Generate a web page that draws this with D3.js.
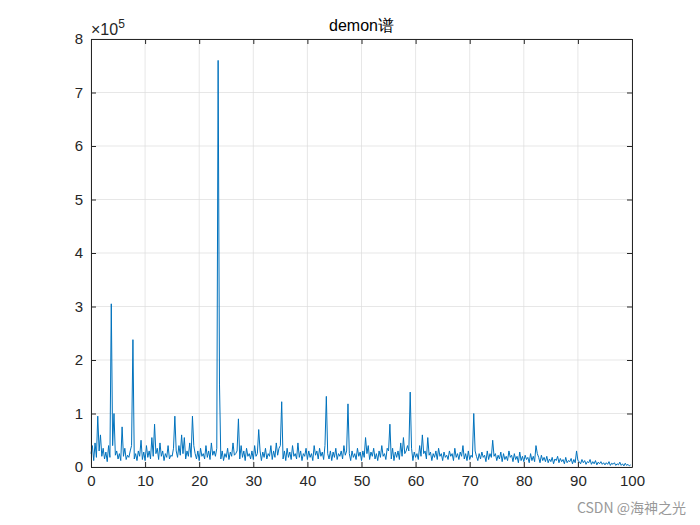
<!DOCTYPE html>
<html><head><meta charset="utf-8">
<script src="https://cdn.jsdelivr.net/npm/d3@7"></script>
<style>body{margin:0;background:#fff}</style></head>
<body><svg id="c" width="700" height="525"></svg>
<script>
// amplitude in thousands, x step 0.25 from 0
const step = 0.25;
const values = [
25,40,12,45,18,95,30,60,20,35,15,28,10,40,18,305,40,100,22,30,
15,25,12,75,20,35,14,22,18,30,40,238,15,25,12,30,20,50,14,28,
12,40,18,30,15,55,20,80,25,35,14,45,20,30,12,25,18,40,15,22,
20,35,95,30,18,40,22,60,25,55,15,30,20,45,18,95,40,25,15,30,
12,35,20,25,15,40,18,30,14,45,22,30,20,35,760,155,15,30,12,25,
18,35,14,28,20,45,22,25,30,90,15,40,18,30,12,35,20,25,15,30,
14,40,20,25,70,30,12,28,18,35,15,25,20,40,14,30,18,45,22,35,
40,122,15,30,12,35,18,28,14,40,20,25,15,45,18,30,12,25,20,35,
14,30,18,25,12,40,22,30,15,35,20,28,14,40,132,25,15,30,12,28,
18,35,14,25,20,30,15,40,22,30,118,25,12,30,18,25,14,35,20,28,
12,30,18,55,25,40,14,28,20,35,15,25,12,30,18,40,20,25,14,35,
30,80,15,35,12,28,18,30,14,45,20,55,25,30,40,30,140,35,12,28,
18,25,14,40,20,60,25,30,15,55,22,28,12,25,18,30,14,35,20,25,
12,28,18,22,14,30,20,25,12,35,18,25,14,28,20,40,15,25,12,30,
14,22,18,100,30,20,12,25,15,28,18,22,10,30,14,25,18,50,20,25,
12,22,15,28,10,25,14,20,12,30,18,22,10,25,14,20,8,28,12,20,
10,22,14,18,8,25,12,20,10,40,25,18,8,22,12,18,10,20,8,15,
10,18,6,15,12,20,8,16,10,14,6,18,8,12,10,16,6,14,8,30,
12,10,6,14,8,12,5,10,8,14,5,10,6,12,4,9,6,10,5,8,
4,8,5,10,3,7,5,8,3,6,4,9,3,6,2,7,3,5,2,4];
const xTicks = [0,10,20,30,40,50,60,70,80,90,100];
const yTicks = [0,1,2,3,4,5,6,7,8];
const title = "demon谱";

const svg = d3.select("#c");
const L=91,R=632,T=39,B=467;
const x = d3.scaleLinear().domain([0,100]).range([L,R]);
const y = d3.scaleLinear().domain([0,8]).range([B,T]);
const font = "'Liberation Sans',Arial,sans-serif";
const g = svg.append("g");
g.selectAll(".gx").data(xTicks).join("line").attr("x1",d=>x(d)).attr("x2",d=>x(d)).attr("y1",T).attr("y2",B).attr("stroke","#dcdcdc").attr("stroke-width",0.7);
g.selectAll(".gy").data(yTicks).join("line").attr("y1",d=>y(d)).attr("y2",d=>y(d)).attr("x1",L).attr("x2",R).attr("stroke","#dcdcdc").attr("stroke-width",0.7);
const line = d3.line().x((d,i)=>x(i*step)).y(d=>y(d/100));
svg.append("path").datum(values).attr("d",line).attr("fill","none").attr("stroke","#0072BD").attr("stroke-width",1);
const ax = (gen,tr)=>{const a=svg.append("g").attr("transform",tr).call(gen);a.select(".domain").attr("stroke","#262626");a.selectAll("line").attr("stroke","#262626");a.selectAll("text").attr("fill","#262626").style("font-family",font).style("font-size","15px");return a;};
ax(d3.axisBottom(x).tickValues(xTicks).tickSize(-5).tickPadding(8).tickSizeOuter(0),`translate(0,${B})`);
ax(d3.axisTop(x).tickValues(xTicks).tickSize(-5).tickFormat("").tickSizeOuter(0),`translate(0,${T})`);
ax(d3.axisLeft(y).tickValues(yTicks).tickSize(-5).tickPadding(8).tickSizeOuter(0),`translate(${L},0)`);
ax(d3.axisRight(y).tickValues(yTicks).tickSize(-5).tickFormat("").tickSizeOuter(0),`translate(${R},0)`);
const ex = svg.append("text").attr("x",L).attr("y",T-4).attr("fill","#262626").style("font-family",font).style("font-size","16px");
ex.append("tspan").text("×10");
ex.append("tspan").attr("dy",-7).style("font-size","12px").text("5");
svg.append("text").attr("x",(L+R)/2).attr("y",T-8).attr("text-anchor","middle").attr("fill","#000").style("font-family",font).style("font-size","16px").text(title);
svg.append("text").attr("x",686).attr("y",513).attr("text-anchor","end").attr("fill","#999").style("font-family","'Noto Sans CJK SC',sans-serif").style("font-size","14px").text("CSDN @海神之光");
</script></body></html>
